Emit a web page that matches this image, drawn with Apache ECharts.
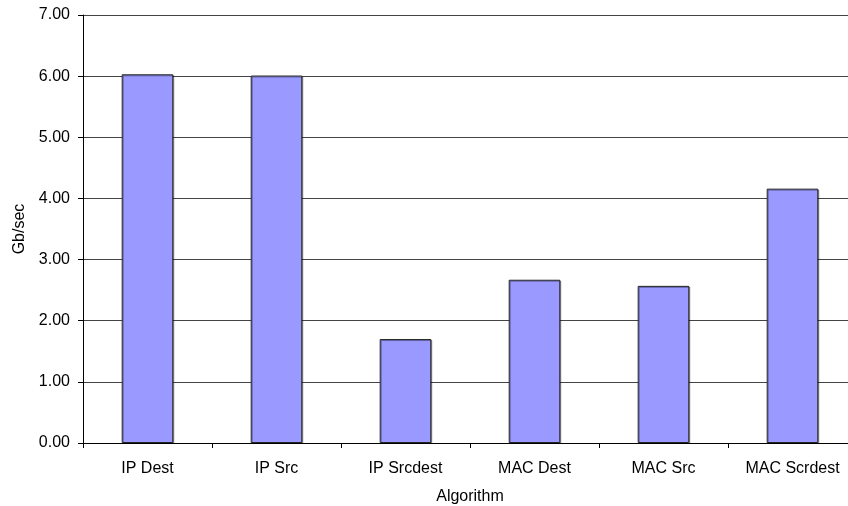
<!DOCTYPE html>
<html><head><meta charset="utf-8">
<script src="https://cdn.jsdelivr.net/npm/echarts@6/dist/echarts.min.js"></script>
<style>html,body{margin:0;padding:0;background:#fff}#c{width:848px;height:506px}</style>
</head><body><div id="c"></div>
<script>
const categories = ["IP Dest", "IP Src", "IP Srcdest", "MAC Dest", "MAC Src", "MAC Scrdest"];
const throughput = [6.03, 6.01, 1.70, 2.67, 2.57, 4.16];
const yTicks = [0, 1, 2, 3, 4, 5, 6, 7];

const chart = echarts.init(document.getElementById('c'), null, {renderer: 'canvas'});
const font = 'Liberation Sans, Arial, sans-serif';
chart.setOption({
  animation: false,
  backgroundColor: '#fff',
  grid: {left: 83, top: 15, bottom: 63, width: 774, containLabel: false, outerBoundsMode: 'none'},
  xAxis: {
    type: 'category',
    data: categories,
    name: 'Algorithm',
    nameLocation: 'middle',
    nameGap: 46,
    nameTextStyle: {fontFamily: font, fontSize: 16, color: '#000'},
    axisLine: {lineStyle: {color: '#000', width: 1}},
    axisTick: {show: true, alignWithLabel: false, length: 5, lineStyle: {color: '#000'}},
    axisLabel: {fontFamily: font, fontSize: 16, color: '#000', margin: 18}
  },
  yAxis: {
    type: 'value',
    min: yTicks[0],
    max: yTicks[yTicks.length - 1],
    interval: 1,
    name: 'Gb/sec',
    nameLocation: 'middle',
    nameGap: 52,
    nameTextStyle: {fontFamily: font, fontSize: 16, color: '#000'},
    axisLine: {show: true, lineStyle: {color: '#000', width: 1}},
    axisTick: {show: true, length: 5, lineStyle: {color: '#000'}},
    axisLabel: {fontFamily: font, fontSize: 16, color: '#000', margin: 13,
      formatter: v => v.toFixed(2)},
    splitLine: {show: true, lineStyle: {color: '#444', width: 1}}
  },
  series: [{
    type: 'bar',
    data: throughput,
    barWidth: '40%',
    itemStyle: {color: '#9999FF', borderColor: '#222', borderWidth: 1,
      shadowColor: 'rgba(0,0,0,0.35)', shadowOffsetX: 1, shadowOffsetY: 1}
  }]
});
</script></body></html>
